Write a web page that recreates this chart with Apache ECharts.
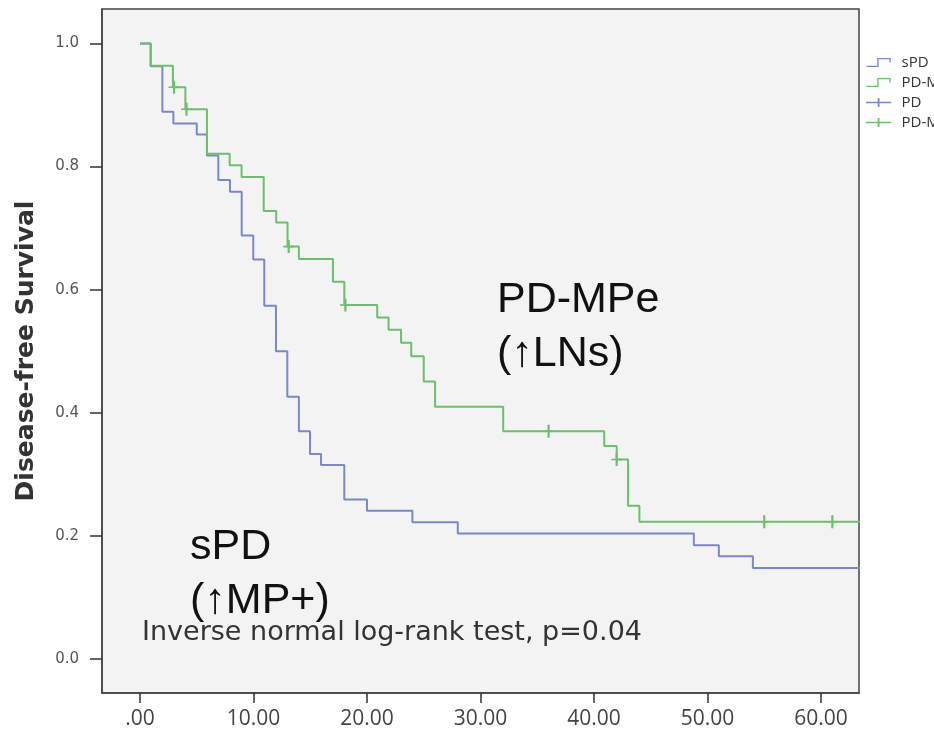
<!DOCTYPE html>
<html><head><meta charset="utf-8">
<script src="https://cdn.jsdelivr.net/npm/echarts@6/dist/echarts.min.js"></script>
<style>html,body{margin:0;padding:0;background:#fff}#c{width:934px;height:730px}</style>
</head><body><div id="c"></div>
<script>
// ---- data ----
const legendNames = ['sPD', 'PD-MPe', 'PD', 'PD-MPe-censored'];
const sPDTimes = [0, 0.94, 1.97, 2.94, 5.0, 5.9, 6.9, 7.93, 8.96, 9.98, 10.95, 11.98, 12.98, 14.0, 14.98, 15.95, 18.0, 20.0, 24.0, 28.0, 48.8, 51.0, 54.0, 64];
const sPDSurv  = [1, 0.963, 0.889, 0.870, 0.852, 0.818, 0.778, 0.759, 0.688, 0.649, 0.574, 0.500, 0.426, 0.370, 0.333, 0.315, 0.259, 0.241, 0.222, 0.204, 0.185, 0.167, 0.148, 0.148];
const pdTimes = [0, 0.94, 2.9, 4.0, 5.9, 7.9, 8.95, 10.9, 12.0, 13.0, 14.0, 17.0, 18.0, 20.9, 21.9, 23.0, 23.9, 25.0, 26.0, 32.0, 40.9, 42.0, 43.0, 44.0, 64];
const pdSurv  = [1, 0.964, 0.929, 0.893, 0.821, 0.802, 0.783, 0.728, 0.709, 0.670, 0.650, 0.613, 0.575, 0.555, 0.535, 0.514, 0.492, 0.451, 0.410, 0.370, 0.346, 0.324, 0.249, 0.223, 0.223];
const sPDCensorTimes = [];
const sPDCensorSurv = [];
const pdCensorTimes = [3.0, 4.1, 13.1, 18.1, 36.0, 42.0, 55.0, 61.0];
const pdCensorSurv  = [0.929, 0.893, 0.670, 0.575, 0.370, 0.324, 0.223, 0.223];
const xTicks = [0, 10, 20, 30, 40, 50, 60];
const yTicks = [0, 0.2, 0.4, 0.6, 0.8, 1.0];
const yTitle = 'Disease-free Survival';
const note = 'Inverse normal log-rank test, p=0.04';
const groupLabels = [['PD-MPe', '(\u2191LNs)'], ['sPD', '(\u2191MP+)']];

const BLUE = '#7b88c6', GREEN = '#6cbf6c';
const zip = (a, b) => a.map((v, i) => [v, b[i]]);
const stepIcon = 'path://M0,8.5 H12 V0 H27 V5 H25.5 V1.5 H13.5 V10 H0 Z';
const plusIcon = 'path://M0,4.2 H13 V0 H15 V4.2 H28 V5.8 H15 V10 H13 V5.8 H0 Z';
const plusSym = 'path://M4,0 H6 V4.4 H10 V5.6 H6 V10 H4 V5.6 H0 V4.4 H4 Z';

const chart = echarts.init(document.getElementById('c'));
chart.setOption({
  backgroundColor: '#fff',
  animation: false,
  grid: { left: 102, top: 9, width: 757, height: 685, show: true,
          backgroundColor: '#f3f3f3', borderColor: '#444', borderWidth: 1.5 },
  legend: {
    orient: 'vertical', left: 861, top: 50, itemWidth: 36, itemHeight: 9, itemGap: 5,
    textStyle: { fontFamily: 'Open Sans', fontSize: 15, color: '#333' },
    itemStyle: { borderWidth: 0 },
    data: [
      { name: legendNames[0], icon: stepIcon },
      { name: legendNames[1], icon: stepIcon },
      { name: legendNames[2], icon: plusIcon },
      { name: legendNames[3], icon: plusIcon }
    ]
  },
  xAxis: {
    type: 'value', min: -3.348, max: 63.35,
    splitLine: { show: false },
    axisLine: { show: true, onZero: false, lineStyle: { color: '#444', width: 1.5 } },
    axisTick: { show: true, length: 10, customValues: xTicks, lineStyle: { color: '#333', width: 1.5 } },
    axisLabel: { customValues: xTicks, margin: 16, fontFamily: 'Open Sans', fontSize: 21, color: '#444',
                 formatter: v => v === 0 ? '.00' : v.toFixed(2) }
  },
  yAxis: {
    type: 'value', min: -0.0552, max: 1.056,
    splitLine: { show: false },
    axisLine: { show: true, onZero: false, lineStyle: { color: '#444', width: 1.5 } },
    axisTick: { show: true, length: 12, customValues: yTicks, lineStyle: { color: '#333', width: 1.5 } },
    axisLabel: { customValues: yTicks, margin: 23, fontFamily: 'DejaVu Sans', fontSize: 15, color: '#555',
                 formatter: v => v.toFixed(1) },
    name: yTitle, nameLocation: 'middle', nameRotate: 90, nameGap: 63,
    nameTextStyle: { fontFamily: 'DejaVu Sans', fontWeight: 'bold', fontSize: 25, color: '#333' }
  },
  series: [
    { name: legendNames[0], type: 'line', step: 'end', data: zip(sPDTimes, sPDSurv), showSymbol: false,
      color: BLUE, lineStyle: { color: BLUE, width: 2 }, itemStyle: { color: BLUE } },
    { name: legendNames[1], type: 'line', step: 'end', data: zip(pdTimes, pdSurv), showSymbol: false,
      color: GREEN, lineStyle: { color: GREEN, width: 2 }, itemStyle: { color: GREEN } },
    { name: legendNames[2], type: 'scatter', data: zip(sPDCensorTimes, sPDCensorSurv), symbol: plusSym,
      symbolSize: [11, 13], color: BLUE, itemStyle: { color: BLUE, opacity: 1 } },
    { name: legendNames[3], type: 'scatter', data: zip(pdCensorTimes, pdCensorSurv), symbol: plusSym,
      symbolSize: [11, 13], color: GREEN, itemStyle: { color: GREEN, opacity: 1 } }
  ],
  graphic: [
    { type: 'text', x: 142, y: 633, style: { text: note, fontFamily: 'DejaVu Sans', fontSize: 27, fill: '#333', verticalAlign: 'middle' } },
    { type: 'text', x: 497, y: 300, style: { text: groupLabels[0][0], fontFamily: 'Liberation Sans', fontSize: 43, fill: '#111', verticalAlign: 'middle' } },
    { type: 'text', x: 497, y: 354, style: { text: groupLabels[0][1], fontFamily: 'Liberation Sans', fontSize: 43, fill: '#111', verticalAlign: 'middle' } },
    { type: 'text', x: 190, y: 547, style: { text: groupLabels[1][0], fontFamily: 'Liberation Sans', fontSize: 43, fill: '#111', verticalAlign: 'middle' } },
    { type: 'text', x: 190, y: 601, style: { text: groupLabels[1][1], fontFamily: 'Liberation Sans', fontSize: 43, fill: '#111', verticalAlign: 'middle' } }
  ]
});
</script></body></html>
